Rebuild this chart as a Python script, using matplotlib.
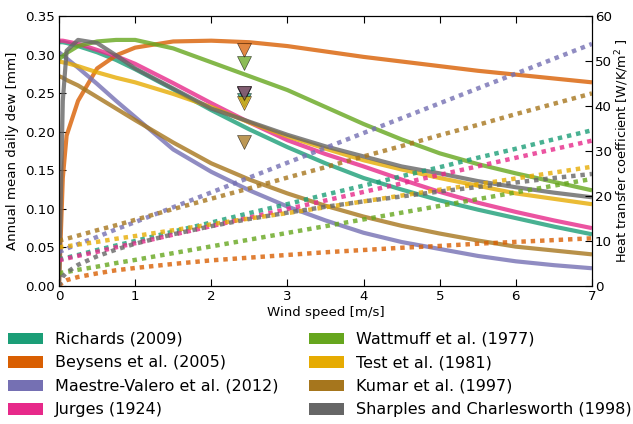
import numpy as np
import matplotlib
matplotlib.use("Agg")
import matplotlib.pyplot as plt
from matplotlib.patches import Patch

plt.rcParams['font.family'] = 'DejaVu Sans'
plt.rcParams['font.size'] = 9.6

# wind speed grid [m/s]
wind = [0, 0.05, 0.1, 0.25, 0.5, 0.75, 1, 1.5, 2, 2.5, 3, 3.5, 4, 4.5, 5, 5.5, 6, 6.5, 7]

names = ["Richards (2009)", "Beysens et al. (2005)", "Maestre-Valero et al. (2012)",
         "Jurges (1924)", "Wattmuff et al. (1977)", "Test et al. (1981)",
         "Kumar et al. (1997)", "Sharples and Charlesworth (1998)"]
colors = ["#1b9e77", "#d95f02", "#7570b3", "#e7298a",
          "#66a61e", "#e6ab02", "#a6761d", "#666666"]

# annual mean daily dew [mm]
richards_dew = [0.316, 0.316, 0.315, 0.311, 0.303, 0.293, 0.281, 0.255, 0.228, 0.203, 0.180, 0.159, 0.140, 0.125, 0.111, 0.099, 0.088, 0.077, 0.067]
beysens_dew = [0.0, 0.14, 0.195, 0.240, 0.282, 0.299, 0.309, 0.317, 0.318, 0.316, 0.311, 0.304, 0.297, 0.291, 0.285, 0.279, 0.274, 0.269, 0.264]
maestre_dew = [0.303, 0.299, 0.295, 0.283, 0.262, 0.240, 0.219, 0.177, 0.148, 0.124, 0.103, 0.085, 0.069, 0.057, 0.048, 0.039, 0.032, 0.027, 0.023]
jurges_dew = [0.318, 0.318, 0.317, 0.314, 0.306, 0.298, 0.288, 0.263, 0.237, 0.212, 0.189, 0.171, 0.155, 0.138, 0.122, 0.108, 0.096, 0.085, 0.075]
wattmuff_dew = [0.294, 0.298, 0.302, 0.311, 0.317, 0.319, 0.319, 0.308, 0.290, 0.272, 0.254, 0.232, 0.210, 0.190, 0.172, 0.158, 0.146, 0.135, 0.124]
test_dew = [0.291, 0.290, 0.289, 0.285, 0.277, 0.270, 0.264, 0.249, 0.232, 0.212, 0.194, 0.178, 0.163, 0.151, 0.140, 0.130, 0.120, 0.113, 0.106]
kumar_dew = [0.272, 0.270, 0.267, 0.260, 0.245, 0.230, 0.215, 0.186, 0.159, 0.138, 0.120, 0.104, 0.090, 0.078, 0.068, 0.059, 0.051, 0.046, 0.041]
sharples_dew = [0.0, 0.24, 0.305, 0.319, 0.315, 0.299, 0.282, 0.256, 0.230, 0.213, 0.196, 0.181, 0.168, 0.155, 0.146, 0.136, 0.128, 0.121, 0.115]

# heat transfer coefficient [W/K/m2]
richards_h = [5.9, 6.1, 6.3, 6.9, 8.0, 9.0, 10.0, 12.1, 14.1, 16.2, 18.2, 20.3, 22.3, 24.4, 26.4, 28.5, 30.5, 32.6, 34.6]
beysens_h = [0.0, 0.9, 1.3, 2.0, 2.8, 3.5, 4.0, 4.9, 5.7, 6.3, 6.9, 7.5, 8.0, 8.5, 8.9, 9.4, 9.8, 10.2, 10.6]
maestre_h = [7.6, 7.9, 8.3, 9.3, 10.9, 12.6, 14.2, 17.5, 20.8, 24.1, 27.4, 30.7, 34.0, 37.3, 40.6, 43.9, 47.2, 50.5, 53.8]
jurges_h = [5.7, 5.9, 6.1, 6.7, 7.6, 8.6, 9.5, 11.4, 13.3, 15.2, 17.1, 19.0, 20.9, 22.8, 24.7, 26.6, 28.5, 30.4, 32.3]
wattmuff_h = [2.8, 3.0, 3.1, 3.6, 4.3, 5.1, 5.8, 7.3, 8.8, 10.3, 11.8, 13.3, 14.8, 16.3, 17.8, 19.3, 20.8, 22.3, 23.8]
test_h = [8.6, 8.7, 8.8, 9.2, 9.8, 10.5, 11.1, 12.4, 13.7, 15.0, 16.2, 17.5, 18.8, 20.1, 21.4, 22.6, 23.9, 25.2, 26.5]
kumar_h = [10.0, 10.3, 10.5, 11.2, 12.4, 13.5, 14.7, 17.1, 19.4, 21.7, 24.1, 26.4, 28.8, 31.1, 33.5, 35.8, 38.2, 40.5, 42.8]
sharples_h = [0.0, 2.1, 3.0, 4.7, 6.6, 8.1, 9.4, 11.5, 13.3, 14.9, 16.3, 17.6, 18.8, 19.9, 21.0, 22.0, 23.0, 24.0, 24.9]

# measured-wind markers
marker_wind = 2.43
marker_dew = [0.241, 0.306, 0.249, 0.250, 0.289, 0.237, 0.187, 0.250]

dew_series = [richards_dew, beysens_dew, maestre_dew, jurges_dew,
              wattmuff_dew, test_dew, kumar_dew, sharples_dew]
h_series = [richards_h, beysens_h, maestre_h, jurges_h,
            wattmuff_h, test_h, kumar_h, sharples_h]

fig = plt.figure(figsize=(6.33, 4.24), dpi=100)
ax = fig.add_axes([59 / 633, 1 - 286 / 424, 533 / 633, 270 / 424])
ax2 = ax.twinx()

for dew, c in zip(dew_series, colors):
    ax.plot(wind, dew, color=c, lw=3, alpha=0.8, solid_capstyle='butt')
for md, c in zip(marker_dew, colors):
    ax.plot([marker_wind], [md], 'v', color=c, ms=9.5, mec='k', mew=0.4, alpha=0.75)
for h, c in zip(h_series, colors):
    ax2.plot(wind, h, color=c, lw=3.2, alpha=0.8, linestyle=(0, (1, 1.1)))

ax.set_xlim(0, 7)
ax.set_ylim(0, 0.35)
ax2.set_ylim(0, 60)
ax.set_yticks(np.arange(0, 0.351, 0.05))
ax.set_yticklabels([f"{v:.2f}" for v in np.arange(0, 0.351, 0.05)])
ax2.set_yticks(range(0, 61, 10))
ax.tick_params(direction='in', top=True, length=5, pad=3)
ax2.tick_params(direction='in', length=5, pad=2)
ax.set_xlabel("Wind speed [m/s]", labelpad=2)
ax.set_ylabel("Annual mean daily dew [mm]", labelpad=4)
ax2.set_ylabel(r"Heat transfer coefficient [W/K/m$^2$ ]", labelpad=1, fontsize=9.3)

handles = [Patch(facecolor=c, edgecolor='none') for c in colors]
fig.legend(handles, names, loc='upper left', bbox_to_anchor=(8 / 633, 1 - 332 / 424),
           ncol=2, frameon=False, borderaxespad=0, borderpad=0,
           handlelength=2.2, handleheight=0.75, handletextpad=0.75,
           labelspacing=0.53, columnspacing=1.9, fontsize=11.5)

fig.savefig("out.png", dpi=100)
